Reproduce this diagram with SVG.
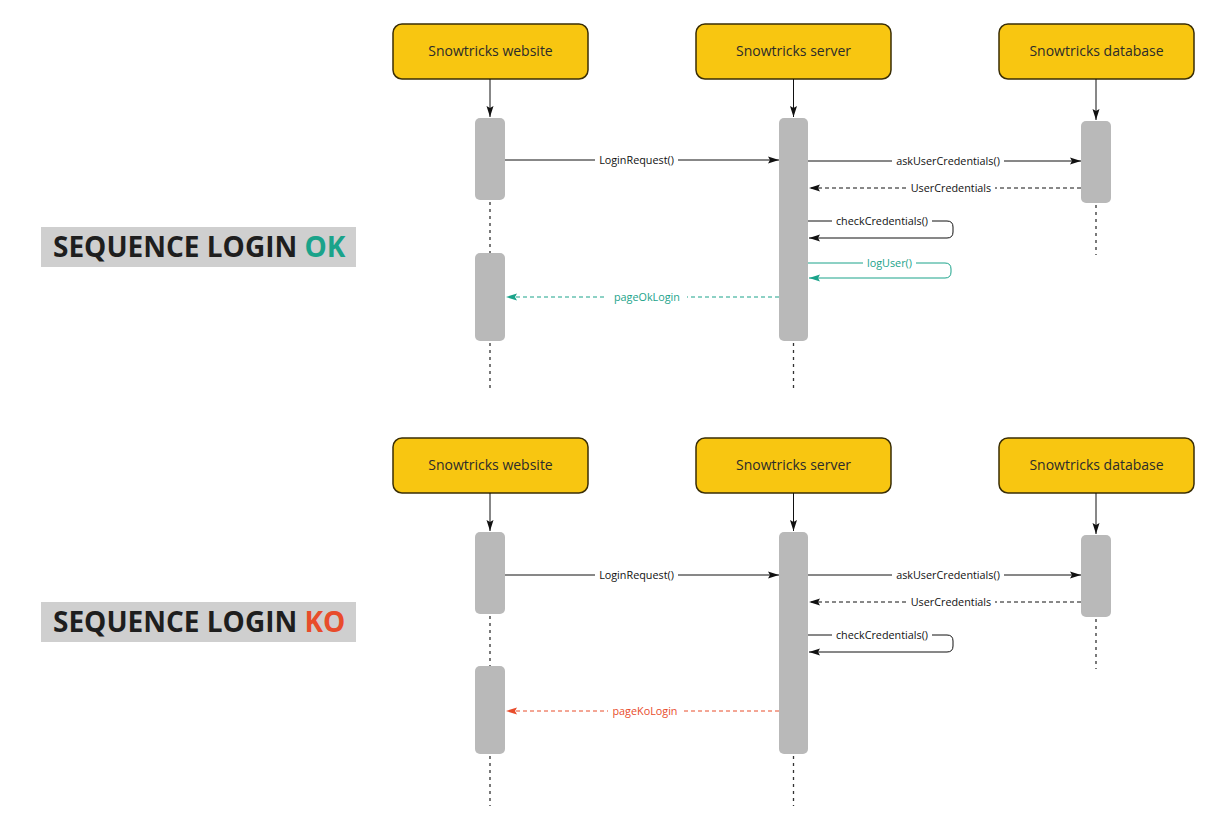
<svg xmlns="http://www.w3.org/2000/svg" width="1218" height="820" viewBox="0 0 1218 820">
<defs>
<style>
.box{fill:#f8c611;stroke:#3a2e05;stroke-width:1.5}
.boxt{font-family:"Open Sans","Liberation Sans",sans-serif;font-size:14px;fill:#2b2b2b;text-anchor:middle}
.bar{fill:#b9b9b9}
.life{stroke:#333;stroke-width:1.3;stroke-dasharray:3 4;fill:none}
.msg{stroke:#111;stroke-width:1;fill:none}
.dash{stroke-dasharray:4 3}
.lbl{font-family:"Open Sans","Liberation Sans",sans-serif;font-size:10.8px;fill:#111;text-anchor:middle}
.bg{fill:#fff}
.teal{stroke:#1aa38a}
.red{stroke:#e84c2b}
.tlbl{fill:#1aa38a}
.rlbl{fill:#e84c2b}
.title{font-family:"Open Sans","Liberation Sans",sans-serif;font-size:28px;font-weight:700;fill:#1e1e1e}
</style>
<marker id="ak" markerWidth="12" markerHeight="8" refX="11" refY="4" orient="auto" markerUnits="userSpaceOnUse"><path d="M0,0.5 L11,4 L0,7.5 L2,4 Z" fill="#111"/></marker>
<marker id="at" markerWidth="12" markerHeight="8" refX="11" refY="4" orient="auto" markerUnits="userSpaceOnUse"><path d="M0,0.5 L11,4 L0,7.5 L2,4 Z" fill="#1aa38a"/></marker>
<marker id="ar" markerWidth="12" markerHeight="8" refX="11" refY="4" orient="auto" markerUnits="userSpaceOnUse"><path d="M0,0.5 L11,4 L0,7.5 L2,4 Z" fill="#e84c2b"/></marker>
</defs>
<rect width="1218" height="820" fill="#fff"/>

<!-- Titles -->
<g id="title-ok">
<rect x="41" y="227" width="315" height="40" fill="#cfcfcf"/>
<text x="53" y="257" class="title">SEQUENCE LOGIN <tspan fill="#1aa38a">OK</tspan></text>
</g>
<g id="title-ko">
<rect x="41" y="602" width="315" height="40" fill="#cfcfcf"/>
<text x="53" y="632" class="title">SEQUENCE LOGIN <tspan fill="#e84c2b">KO</tspan></text>
</g>

<!-- Section 1 nodes -->
<g id="website-1">
<rect class="box" x="393" y="24" width="195" height="55" rx="9"/>
<text class="boxt" x="490.5" y="56">Snowtricks website</text>
</g>
<g id="server-1">
<rect class="box" x="696" y="24" width="195" height="55" rx="9"/>
<text class="boxt" x="793.5" y="56">Snowtricks server</text>
</g>
<g id="database-1">
<rect class="box" x="999" y="24" width="195" height="55" rx="9"/>
<text class="boxt" x="1096.5" y="56">Snowtricks database</text>
</g>
<g id="website-bars-1">
<rect class="bar" x="475" y="118" width="30" height="82" rx="5"/>
<rect class="bar" x="475" y="253" width="30" height="88" rx="5"/>
</g>
<g id="server-bar-1">
<rect class="bar" x="779" y="118" width="29" height="223" rx="5"/>
</g>
<g id="database-bar-1">
<rect class="bar" x="1081" y="121" width="30" height="82" rx="5"/>
</g>

<!-- Section 2 nodes -->
<g id="website-2">
<rect class="box" x="393" y="438" width="195" height="55" rx="9"/>
<text class="boxt" x="490.5" y="470">Snowtricks website</text>
</g>
<g id="server-2">
<rect class="box" x="696" y="438" width="195" height="55" rx="9"/>
<text class="boxt" x="793.5" y="470">Snowtricks server</text>
</g>
<g id="database-2">
<rect class="box" x="999" y="438" width="195" height="55" rx="9"/>
<text class="boxt" x="1096.5" y="470">Snowtricks database</text>
</g>
<g id="website-bars-2">
<rect class="bar" x="475" y="532" width="30" height="82" rx="5"/>
<rect class="bar" x="475" y="666" width="30" height="88" rx="5"/>
</g>
<g id="server-bar-2">
<rect class="bar" x="779" y="532" width="29" height="222" rx="5"/>
</g>
<g id="database-bar-2">
<rect class="bar" x="1081" y="535" width="30" height="82" rx="5"/>
</g>

<!-- Connectors -->
<g id="connectors">
<!-- section 1 lifelines -->
<line class="msg" x1="490" y1="79" x2="490" y2="117" marker-end="url(#ak)"/>
<line class="msg" x1="793.5" y1="79" x2="793.5" y2="117" marker-end="url(#ak)"/>
<line class="msg" x1="1096" y1="79" x2="1096" y2="120" marker-end="url(#ak)"/>
<line class="life" x1="490" y1="202" x2="490" y2="253"/>
<line class="life" x1="490" y1="343" x2="490" y2="392"/>
<line class="life" x1="793.5" y1="343" x2="793.5" y2="392"/>
<line class="life" x1="1096" y1="205" x2="1096" y2="255"/>

<!-- section 1 messages -->
<line class="msg" x1="505" y1="160" x2="779" y2="160" marker-end="url(#ak)"/>
<rect class="bg" x="595" y="153" width="83" height="14"/>
<text class="lbl" x="636.5" y="163.8">LoginRequest()</text>

<line class="msg" x1="808" y1="161" x2="1081" y2="161" marker-end="url(#ak)"/>
<rect class="bg" x="892" y="154" width="112" height="14"/>
<text class="lbl" x="948" y="164.8">askUserCredentials()</text>

<line class="msg dash" x1="1081" y1="188" x2="809" y2="188" marker-end="url(#ak)"/>
<rect class="bg" x="907" y="181" width="88" height="14"/>
<text class="lbl" x="951" y="191.8">UserCredentials</text>

<path class="msg" d="M808,221 H947 Q953,221 953,227 V232 Q953,238 947,238 H809" marker-end="url(#ak)"/>
<rect class="bg" x="832" y="214" width="100" height="14"/>
<text class="lbl" x="882" y="224.8">checkCredentials()</text>

<path class="msg teal" d="M808,263 H945 Q951,263 951,269 V272 Q951,278 945,278 H809" marker-end="url(#at)"/>
<rect class="bg" x="863" y="256" width="53" height="14"/>
<text class="lbl tlbl" x="889.5" y="266.8">logUser()</text>

<line class="msg dash teal" x1="779" y1="297" x2="506" y2="297" marker-end="url(#at)"/>
<rect class="bg" x="607" y="290" width="80" height="14"/>
<text class="lbl tlbl" x="647" y="300.8">pageOkLogin</text>

<!-- section 2 lifelines -->
<line class="msg" x1="490" y1="493" x2="490" y2="531" marker-end="url(#ak)"/>
<line class="msg" x1="793.5" y1="493" x2="793.5" y2="531" marker-end="url(#ak)"/>
<line class="msg" x1="1096" y1="493" x2="1096" y2="534" marker-end="url(#ak)"/>
<line class="life" x1="490" y1="616" x2="490" y2="666"/>
<line class="life" x1="490" y1="756" x2="490" y2="806"/>
<line class="life" x1="793.5" y1="756" x2="793.5" y2="806"/>
<line class="life" x1="1096" y1="619" x2="1096" y2="669"/>

<!-- section 2 messages -->
<line class="msg" x1="505" y1="575" x2="779" y2="575" marker-end="url(#ak)"/>
<rect class="bg" x="595" y="568" width="83" height="14"/>
<text class="lbl" x="636.5" y="578.8">LoginRequest()</text>

<line class="msg" x1="808" y1="575" x2="1081" y2="575" marker-end="url(#ak)"/>
<rect class="bg" x="892" y="568" width="112" height="14"/>
<text class="lbl" x="948" y="578.8">askUserCredentials()</text>

<line class="msg dash" x1="1081" y1="602" x2="809" y2="602" marker-end="url(#ak)"/>
<rect class="bg" x="907" y="595" width="88" height="14"/>
<text class="lbl" x="951" y="605.8">UserCredentials</text>

<path class="msg" d="M808,635 H947 Q953,635 953,641 V646 Q953,652 947,652 H809" marker-end="url(#ak)"/>
<rect class="bg" x="832" y="628" width="100" height="14"/>
<text class="lbl" x="882" y="638.8">checkCredentials()</text>

<line class="msg dash red" x1="779" y1="711" x2="506" y2="711" marker-end="url(#ar)"/>
<rect class="bg" x="608" y="704" width="74" height="14"/>
<text class="lbl rlbl" x="645" y="714.8">pageKoLogin</text>
</g>
</svg>
